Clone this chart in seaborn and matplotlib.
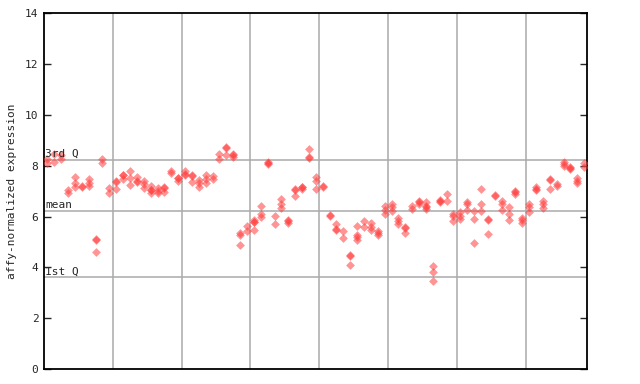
import matplotlib
matplotlib.use("Agg")
import matplotlib.pyplot as plt
import seaborn as sns
import pandas as pd

# expression values per sample column, in groups of columns separated by grid lines
group1 = [[8.25, 8.1], [8.45, 8.15], [8.41, 8.28], [7.04, 6.91], [7.56, 7.33, 7.17],
          [7.22, 7.15], [7.46, 7.33, 7.2], [5.12, 5.06, 4.59], [8.27, 8.12], [7.14, 6.94]]
group2 = [[7.38, 7.35, 7.07], [7.65, 7.62, 7.49], [7.79, 7.5, 7.24], [7.55, 7.38, 7.35],
          [7.39, 7.28, 7.14], [7.19, 7.06, 7.03, 6.94], [7.11, 7.01, 6.93], [7.15, 7.12, 6.95],
          [7.79, 7.71], [7.53, 7.5, 7.39]]
group3 = [[7.81, 7.66, 7.63], [7.63, 7.6, 7.37], [7.43, 7.33, 7.18], [7.65, 7.46, 7.33],
          [7.59, 7.49], [8.45, 8.28], [8.74, 8.7, 8.41], [8.48, 8.44, 8.36],
          [5.35, 5.27, 4.9], [5.62, 5.43]]
group4 = [[5.88, 5.8, 5.77, 5.49], [6.41, 6.12, 5.97], [8.16, 8.12, 8.08], [6.02, 5.7],
          [6.71, 6.51, 6.32], [5.88, 5.84, 5.75], [7.1, 7.04, 6.8], [7.18, 7.15, 7.07],
          [8.64, 8.34, 8.3], [7.54, 7.41, 7.1]]
group5 = [[7.19, 7.15], [6.08, 6.03], [5.69, 5.51, 5.47], [5.43, 5.14], [4.48, 4.44, 4.08],
          [5.61, 5.28, 5.18, 5.07], [5.82, 5.57], [5.74, 5.57, 5.47], [5.44, 5.36, 5.27],
          [6.41, 6.25, 6.12]]
group6 = [[6.49, 6.38, 6.23], [5.95, 5.82, 5.69], [5.58, 5.54, 5.34], [6.41, 6.3],
          [6.63, 6.59, 6.49], [6.58, 6.42, 6.36, 6.3], [4.05, 3.8, 3.46], [6.67, 6.6, 6.57],
          [6.88, 6.61], [6.12, 6.02, 5.82]]
group7 = [[6.19, 6.02, 5.91], [6.57, 6.49, 6.25], [6.21, 5.92, 4.94], [7.07, 6.49, 6.21],
          [5.9, 5.86, 5.31], [6.86, 6.82], [6.61, 6.48, 6.25], [6.36, 6.1, 5.86],
          [6.99, 6.95, 6.88], [5.95, 5.86, 5.75]]
group8 = [[6.49, 6.38, 6.19], [7.15, 7.1, 7.04], [6.61, 6.48, 6.32], [7.49, 7.45, 7.1],
          [7.3, 7.21], [8.13, 8.05, 7.99], [7.97, 7.92, 7.89], [7.5, 7.41, 7.33], [8.09, 7.96]]

q1_value = 3.62
mean_value = 6.21
q3_value = 8.22
y_ticks = [0, 2, 4, 6, 8, 10, 12, 14]
y_label = "affy-normalized expression"

groups = [group1, group2, group3, group4, group5, group6, group7, group8]
rows = []
col = 0
for g in groups:
    for vals in g:
        for v in vals:
            rows.append({"sample": col, "value": v})
        col += 1
n_cols = col
df = pd.DataFrame(rows)

sns.set_style("white")
plt.rcParams['font.family'] = ['DejaVu Sans Mono']

fig = plt.figure(figsize=(6.4, 3.84), dpi=100)
ax = fig.add_axes([44 / 640, 15 / 384, 543 / 640, 355.7 / 384])

grid_c = "#aaaaaa"
# group separators
sep = 10
for k in range(1, len(groups)):
    ax.axvline(k * sep - 0.5, color=grid_c, lw=1.1, zorder=1)
for v in (q1_value, mean_value, q3_value):
    ax.axhline(v, color=grid_c, lw=1.1, zorder=1)

sns.scatterplot(data=df, x="sample", y="value", ax=ax, marker="D", s=20,
                color="#ff3c3c", alpha=0.55, linewidth=0, zorder=3, legend=False)

ax.set_xlim(-0.5, n_cols - 0.6)
ax.set_ylim(0, 14)
ax.set_yticks(y_ticks)
ax.set_yticklabels([str(t) for t in y_ticks], fontsize=8)
ax.set_xticks([])
ax.set_xlabel("")
ax.set_ylabel(y_label, fontsize=8, labelpad=6)
ax.tick_params(axis="y", direction="in", length=5, width=1, left=True, right=True, pad=4)

for s in ax.spines.values():
    s.set_color("black")
    s.set_linewidth(1.3)

trans = ax.get_yaxis_transform()
ax.text(0.002, q3_value + 0.05, "3rd Q", transform=trans, fontsize=8, va="bottom", ha="left", zorder=4)
ax.text(0.002, mean_value + 0.05, "mean", transform=trans, fontsize=8, va="bottom", ha="left", zorder=4)
ax.text(0.002, q1_value + 0.02, "1st Q", transform=trans, fontsize=8, va="bottom", ha="left", zorder=4)

fig.savefig("out.png", dpi=100)
